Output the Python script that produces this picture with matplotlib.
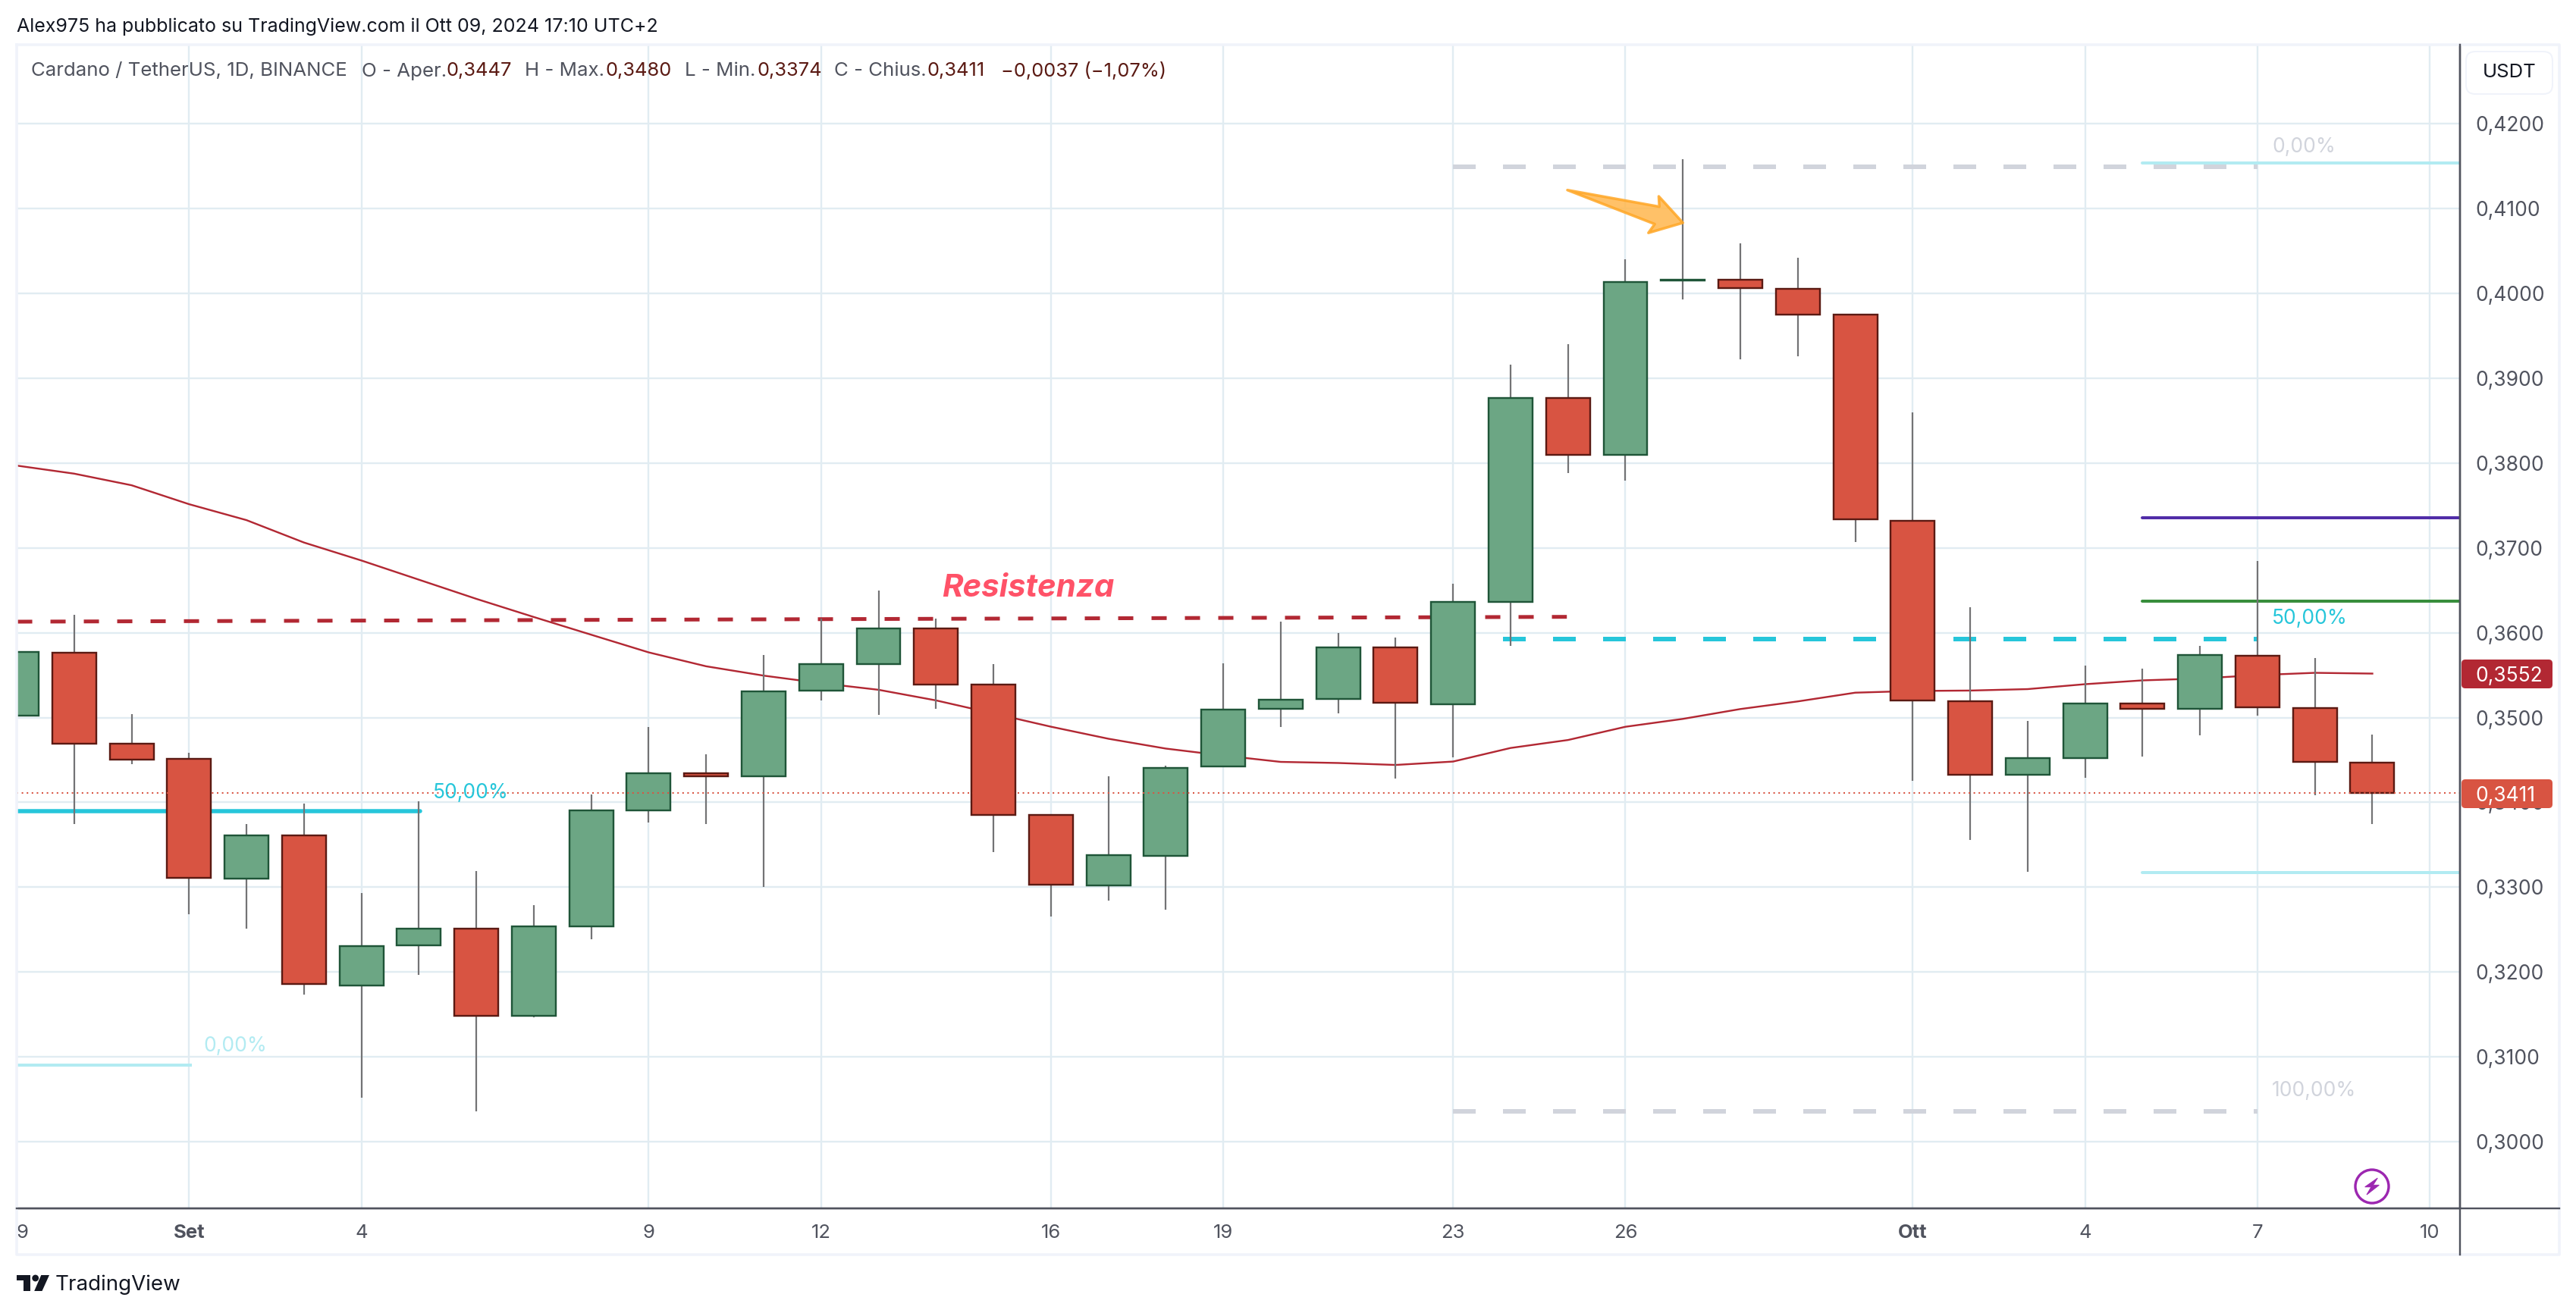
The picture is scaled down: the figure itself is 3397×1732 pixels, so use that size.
import matplotlib
matplotlib.use('Agg')
import matplotlib.pyplot as plt
from matplotlib.patches import Polygon, Circle, FancyBboxPatch

plt.rcParams['font.family'] = ['Inter', 'Roboto', 'DejaVu Sans']
plt.rcParams['lines.scale_dashes'] = False

W, H = 3397, 1732
PX = 0.72  # one pixel in points at dpi 100

# days counted from 1 Sep 2024
days = list(range(-3, 39))
opens = [.35026, .35768, .34688, .34510, .33100, .33612, .31842, .32318, .32509, .31486, .32540,
         .33905, .34341, .34310, .35319, .35626, .36053, .35390, .33852, .33020, .33372, .34423,
         .35104, .35220, .35829, .35157, .36360, .38771, .38095, .40150, .40159, .40053, .39746,
         .37319, .35193, .34326, .34521, .35166, .35104, .35727, .35113, .34470]
highs = [.35777, .36213, .35044, .34586, .33745, .33990, .32931, .34012, .33194, .32789, .34096,
         .34892, .34568, .35733, .36169, .36498, .36169, .35630, .33852, .34310, .34434, .35642,
         .36132, .35998, .35945, .36581, .39158, .39399, .40399, .41583, .40586, .40417, .39763,
         .38601, .36301, .34957, .35611, .35576, .35843, .36848, .35700, .34800]
lows = [.35026, .33741, .34448, .32678, .32509, .31731, .30517, .31962, .30353, .31464, .32384,
        .33763, .33745, .33003, .35204, .35035, .35106, .33416, .32651, .32843, .32731, .34423,
        .34886, .35051, .34277, .34530, .35844, .37882, .37793, .39932, .39225, .39261, .37072,
        .34250, .33560, .33182, .34294, .34544, .34793, .35024, .34085, .33740]
closes = [.35777, .34692, .34506, .33109, .33612, .31860, .32309, .32509, .31486, .32536, .33901,
          .34345, .34310, .35310, .35630, .36053, .35390, .33852, .33029, .33381, .34408, .35095,
          .35211, .35829, .35175, .36367, .38771, .38095, .40133, .40157, .40061, .39746, .37335,
          .35198, .34326, .34521, .35166, .35104, .35736, .35122, .34477, .34110]

ma_line = [.37970, .37875, .37738, .37515, .37327, .37063, .36851, .36625, .36399, .36185, .35976,
           .35768, .35604, .35494, .35405, .35327, .35202, .35048, .34892, .34750, .34634, .34552,
           .34477, .34464, .34441, .34481, .34641, .34735, .34891, .34984, .35100, .35190, .35293,
           .35313, .35318, .35335, .35393, .35438, .35460, .35500, .35527, .35518]

resist_x = [-2.993, 23.98]
resist_y = [.3613, .36187]

fib_x = [22, 36]
fib_top = .41493
fib_mid = .35929
fib_bot = .30360

right_x = [34, 39.52]
right_levels = [.41537, .37355, .36372, .33169]
right_colors = ['#b2ebf2', '#512da8', '#388e3c', '#b2ebf2']

left_mid = .33892
left_mid_x = [-2.993, 4.02]
left_zero = .30904
left_zero_x = [-2.993, 0.02]

last_price = .3411

arrow_pts = [(23.99, .41218), (25.59, .41022), (25.58, .41144), (26.0, .40832), (25.40, .40713), (25.51, .40817)]

price_ticks = [.30, .31, .32, .33, .34, .35, .36, .37, .38, .39, .40, .41, .42]
date_ticks = [-3, 0, 3, 8, 11, 15, 18, 22, 25, 30, 33, 36, 39]
date_labels = ['9', 'Set', '4', '9', '12', '16', '19', '23', '26', 'Ott', '4', '7', '10']

GRID = '#e1ecf2'
AXC = '#50535e'
BORDER = '#f0f3fa'
UP = '#6ca684'
UP_E = '#1f5538'
DN = '#d85442'
DN_E = '#5b1a13'
WICK = '#737375'
RES = '#b22833'
CY = '#26c6da'
LG = '#d1d4dc'

fig = plt.figure(figsize=(W / 100, H / 100), dpi=100, facecolor='white')

# main chart area, pixel box 22..3244 / 59..1594
ax = fig.add_axes([22 / W, 1 - 1594 / H, (3244 - 22) / W, (1594 - 59) / H])
ax.set_xlim((22 - 248.8) / 75.78, (3244 - 248.8) / 75.78)
ax.set_ylim(.30 - (1594 - 1506) / 11190, .30 + (1506 - 59) / 11190)

ax.set_xticks(date_ticks)
ax.set_xticklabels(date_labels, fontsize=18.5, color=AXC)
ax.set_yticks(price_ticks)
ax.yaxis.tick_right()
ax.set_yticklabels([('%.4f' % p).replace('.', ',') for p in price_ticks], fontsize=19, color=AXC,
                   ha='left', va='center_baseline')
ax.tick_params(axis='y', length=0, pad=20 * PX)
ax.tick_params(axis='x', length=0, pad=21 * PX)
labs = ax.get_xticklabels()
labs[0].set_ha('left')
labs[1].set_fontweight('bold')
labs[9].set_fontweight('bold')
ax.grid(True, color=GRID, lw=2.4 * PX, zorder=0)
ax.set_axisbelow(True)
for s in ['left', 'top']:
    ax.spines[s].set_visible(False)
for s in ['right', 'bottom']:
    ax.spines[s].set_color(AXC)
    ax.spines[s].set_linewidth(2.4 * PX)

# drawings under the candles
ax.plot(days, ma_line, color=RES, lw=2.4 * PX, zorder=2)
ax.plot(resist_x, resist_y, color=RES, lw=5 * PX, ls=(0, (20 * PX, 24 * PX)), dash_capstyle='butt', zorder=2)
ax.plot(fib_x, [fib_top, fib_top], color=LG, lw=6 * PX, ls=(0, (30 * PX, 36 * PX)), dash_capstyle='butt', zorder=2)
ax.plot(fib_x, [fib_bot, fib_bot], color=LG, lw=6 * PX, ls=(0, (30 * PX, 36 * PX)), dash_capstyle='butt', zorder=2)
ax.plot(fib_x, [fib_mid, fib_mid], color=CY, lw=6 * PX, ls=(0, (30 * PX, 36 * PX)), dash_capstyle='butt', zorder=2)
for lev, col in zip(right_levels, right_colors):
    ax.plot(right_x, [lev, lev], color=col, lw=4 * PX, zorder=2, solid_capstyle='round')
ax.plot(left_mid_x, [left_mid, left_mid], color=CY, lw=5.5 * PX, zorder=2, solid_capstyle='round')
ax.plot(left_zero_x, [left_zero, left_zero], color='#b2ebf2', lw=4 * PX, zorder=2)

# candles
for d, o, h, l, c in zip(days, opens, highs, lows, closes):
    up = c >= o
    if h > l and d > -3:
        ax.vlines(d, l, h, color=WICK, lw=2.2 * PX, zorder=3)
    ax.bar(d, abs(c - o), bottom=min(o, c), width=0.765, color=UP if up else DN,
           edgecolor=UP_E if up else DN_E, linewidth=2.4 * PX, zorder=4)

ax.axhline(last_price, color=DN, lw=2 * PX, ls=(0, (2 * PX, 4.6 * PX)), zorder=5)
ax.add_patch(Polygon(arrow_pts, closed=True, facecolor='#ffb74d', edgecolor='#ffa726', alpha=0.85,
                     lw=3.5 * PX, joinstyle='round', zorder=6))

# overlay in pixel coordinates for the frame, labels and logos
ov = fig.add_axes([0, 0, 1, 1], zorder=10)
ov.set_xlim(0, W)
ov.set_ylim(H, 0)
ov.axis('off')
ov.patch.set_alpha(0)

ov.plot([22, 3375, 3375, 22, 22], [59, 59, 1655, 1655, 59], color=BORDER, lw=3.5 * PX, zorder=1)
ov.plot([3244, 3244], [59, 1655], color=AXC, lw=2.4 * PX, zorder=2)
ov.plot([22, 3375], [1594, 1594], color=AXC, lw=2.4 * PX, zorder=2)

ov.add_patch(FancyBboxPatch((3258, 74), 102, 44, boxstyle='round,pad=6,rounding_size=12',
                            fc='white', ec=BORDER, lw=2 * PX, mutation_aspect=1))
ov.text(3309, 96, 'USDT', fontsize=18.5, color='#131722', ha='center', va='center')

ov.text(22, 35, 'Alex975 ha pubblicato su TradingView.com il Ott 09, 2024 17:10 UTC+2', fontsize=18, color='#131722', va='center')

legend_grey = [(41, 'Cardano / TetherUS, 1D, BINANCE'), (477, 'O - Aper.'), (692, 'H - Max.'), (903, 'L - Min.'), (1100, 'C - Chius.')]
legend_red = [(588, '0,3447'), (799, '0,3480'), (998, '0,3374'), (1223, '0,3411'), (1320, '\u22120,0037 (\u22121,07%)')]
for x, s in legend_grey:
    ov.text(x, 94, s, fontsize=18.6, color=AXC, va='center')
for x, s in legend_red:
    ov.text(x, 94, s, fontsize=18.3, color=DN_E, va='center')

# price labels on the scale
for y0, col, s in [(889, RES, '0,3552'), (1047, DN, '0,3411')]:
    ov.add_patch(FancyBboxPatch((3246, y0 - 19), 120, 38, boxstyle='round,pad=0,rounding_size=5', fc=col, ec='none', zorder=3))
    ov.text(3264, y0, s, fontsize=19, color='white', ha='left', va='center_baseline', zorder=4)

ov.text(1242, 787, 'Resistenza', fontsize=30.2, color='#ff5268', style='italic', weight='bold', va='baseline')

ov.text(2996, 816, '50,00%', fontsize=19, color=CY, va='center')
ov.text(571, 1046, '50,00%', fontsize=19, color=CY, va='center')
ov.text(268, 1380, '0,00%', fontsize=19, color='#b2ebf2', va='center')
ov.text(2996, 194, '0,00%', fontsize=19, color=LG, va='center')
ov.text(2996, 1439, '100,00%', fontsize=19, color=LG, va='center')

# lightning badge
ov.add_patch(Circle((3128, 1565), 22, fc='white', ec='#9c27b0', lw=3.4 * PX, zorder=3))
ov.add_patch(Polygon([(3135.3, 1554), (3118.7, 1565.7), (3127, 1565.7), (3121, 1576), (3137.3, 1563.3), (3129.3, 1563.3)],
                     closed=True, fc='#9c27b0', ec='#9c27b0', lw=1 * PX, zorder=4))

# TradingView logo
LOGO = '#131722'
ov.add_patch(Polygon([(22, 1682), (40, 1682), (40, 1703), (31, 1703), (31, 1689), (22, 1689)], closed=True, fc=LOGO, ec='none'))
ov.add_patch(Circle((46.7, 1686), 4.4, fc=LOGO, ec='none'))
ov.add_patch(Polygon([(54.3, 1682), (65, 1682), (55.5, 1703), (45.2, 1703)], closed=True, fc=LOGO, ec='none'))
ov.text(73, 1695, 'TradingView', fontsize=20, color=LOGO, va='center')

fig.savefig('out.png', dpi=100)
